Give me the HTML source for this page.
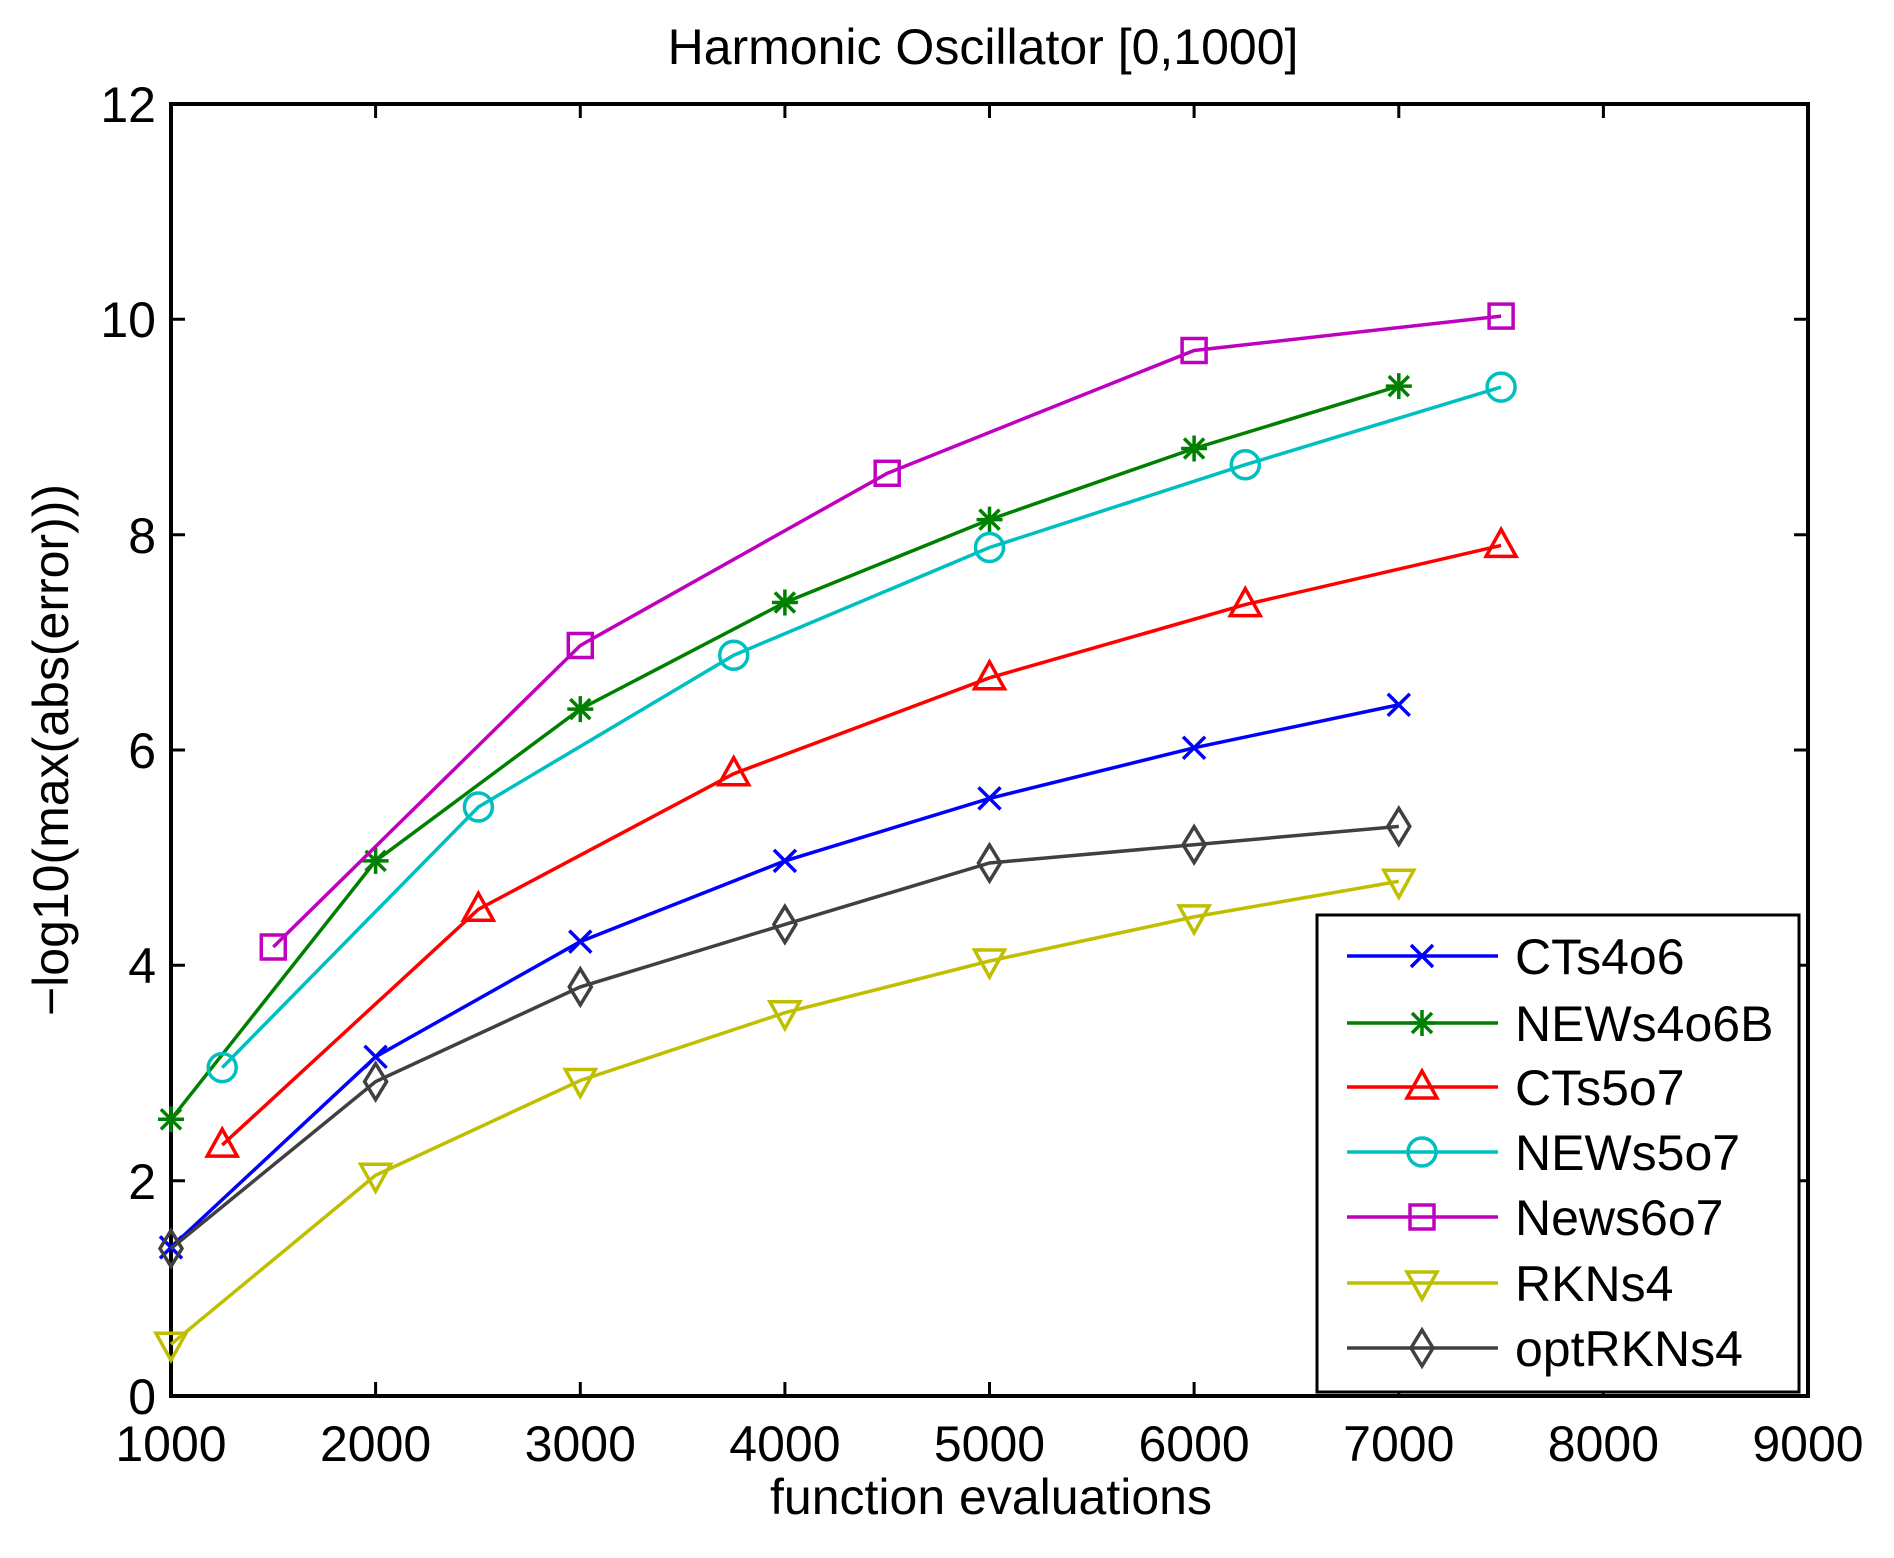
<!DOCTYPE html>
<html><head><meta charset="utf-8"><style>
html,body{margin:0;padding:0;background:#fff;}
svg{display:block;font-family:"Liberation Sans",Arial,sans-serif;}
</style></head><body>
<svg width="1894" height="1558" viewBox="0 0 1894 1558" xmlns="http://www.w3.org/2000/svg">
<defs>
<g id="mx"><path d="M-11,-11L11,11M-11,11L11,-11" stroke-width="3.5"/></g>
<g id="ms"><path d="M-13,0H13M0,-13V13M-10,-10L10,10M-10,10L10,-10" stroke-width="3.5"/></g>
<g id="mt"><path d="M0,-16L15,11H-15Z" fill="none" stroke-width="3.5"/></g>
<g id="mo"><circle r="14" fill="none" stroke-width="3.5"/></g>
<g id="mq"><rect x="-12" y="-12" width="24" height="24" fill="none" stroke-width="3.5"/></g>
<g id="mv"><path d="M0,16L15,-11H-15Z" fill="none" stroke-width="3.5"/></g>
<g id="md"><path d="M0,-18L11,0L0,18L-11,0Z" fill="none" stroke-width="3.5"/></g>
</defs>
<rect width="1894" height="1558" fill="#fff"/>
<rect x="171" y="104" width="1637" height="1292" fill="none" stroke="#000" stroke-width="4"/>
<g stroke="#000" stroke-width="3">
<path d="M375.6,1396v-14M580.3,1396v-14M784.9,1396v-14M989.5,1396v-14M1194.1,1396v-14M1398.8,1396v-14M1603.4,1396v-14"/>
<path d="M375.6,104v14M580.3,104v14M784.9,104v14M989.5,104v14M1194.1,104v14M1398.8,104v14M1603.4,104v14"/>
<path d="M171,1180.7h14M171,965.3h14M171,750h14M171,534.7h14M171,319.3h14"/>
<path d="M1808,1180.7h-14M1808,965.3h-14M1808,750h-14M1808,534.7h-14M1808,319.3h-14"/>
</g>
<g font-size="50" fill="#000" text-anchor="middle">
<text x="171" y="1461">1000</text><text x="375.6" y="1461">2000</text><text x="580.3" y="1461">3000</text>
<text x="784.9" y="1461">4000</text><text x="989.5" y="1461">5000</text><text x="1194.1" y="1461">6000</text>
<text x="1398.8" y="1461">7000</text><text x="1603.4" y="1461">8000</text><text x="1808" y="1461">9000</text>
</g>
<g font-size="50" fill="#000" text-anchor="end">
<text x="156" y="1414">0</text><text x="156" y="1199">2</text><text x="156" y="983">4</text>
<text x="156" y="768">6</text><text x="156" y="553">8</text><text x="156" y="337">10</text><text x="156" y="122">12</text>
</g>
<text x="983" y="64" font-size="50" text-anchor="middle">Harmonic Oscillator [0,1000]</text>
<text x="991" y="1514" font-size="50" text-anchor="middle">function evaluations</text>
<text transform="translate(68,750) rotate(-90)" font-size="50" text-anchor="middle">−log10(max(abs(error)))</text>

<g fill="none" stroke-width="3.5">
<g stroke="#0000ff"><polyline points="171,1247.4 375.6,1056.8 580.3,941.6 784.9,860.9 989.5,798.4 1194.1,747.8 1398.8,704.8"/>
<use href="#mx" x="171" y="1247.4"/><use href="#mx" x="375.6" y="1056.8"/><use href="#mx" x="580.3" y="941.6"/><use href="#mx" x="784.9" y="860.9"/><use href="#mx" x="989.5" y="798.4"/><use href="#mx" x="1194.1" y="747.8"/><use href="#mx" x="1398.8" y="704.8"/></g>
<g stroke="#008000"><polyline points="171,1119.3 375.6,860.9 580.3,709.1 784.9,602.5 989.5,519.6 1194.1,448.5 1398.8,386.1"/>
<use href="#ms" x="171" y="1119.3"/><use href="#ms" x="375.6" y="860.9"/><use href="#ms" x="580.3" y="709.1"/><use href="#ms" x="784.9" y="602.5"/><use href="#ms" x="989.5" y="519.6"/><use href="#ms" x="1194.1" y="448.5"/><use href="#ms" x="1398.8" y="386.1"/></g>
<g stroke="#ff0000"><polyline points="222.2,1145.1 478.4,909.3 733.7,773.7 989.5,677.8 1245.3,604.6 1501.1,545.4"/>
<use href="#mt" x="222.2" y="1145.1"/><use href="#mt" x="478.4" y="909.3"/><use href="#mt" x="733.7" y="773.7"/><use href="#mt" x="989.5" y="677.8"/><use href="#mt" x="1245.3" y="604.6"/><use href="#mt" x="1501.1" y="545.4"/></g>
<g stroke="#00bfbf"><polyline points="222.2,1067.6 478.4,807 733.7,655.2 989.5,547.5 1245.3,464.7 1501.1,387.1"/>
<use href="#mo" x="222.2" y="1067.6"/><use href="#mo" x="478.4" y="807"/><use href="#mo" x="733.7" y="655.2"/><use href="#mo" x="989.5" y="547.5"/><use href="#mo" x="1245.3" y="464.7"/><use href="#mo" x="1501.1" y="387.1"/></g>
<g stroke="#bf00bf"><polyline points="273.3,947 580.3,645.5 887.2,473.3 1194.1,350.5 1501.1,316.1"/>
<use href="#mq" x="273.3" y="947"/><use href="#mq" x="580.3" y="645.5"/><use href="#mq" x="887.2" y="473.3"/><use href="#mq" x="1194.1" y="350.5"/><use href="#mq" x="1501.1" y="316.1"/></g>
<g stroke="#bfbf00"><polyline points="171,1344.3 375.6,1175.3 580.3,1080.5 784.9,1012.7 989.5,961 1194.1,916.9 1398.8,881.3"/>
<use href="#mv" x="171" y="1344.3"/><use href="#mv" x="375.6" y="1175.3"/><use href="#mv" x="580.3" y="1080.5"/><use href="#mv" x="784.9" y="1012.7"/><use href="#mv" x="989.5" y="961"/><use href="#mv" x="1194.1" y="916.9"/><use href="#mv" x="1398.8" y="881.3"/></g>
<g stroke="#404040"><polyline points="171,1248.5 375.6,1081.6 580.3,986.9 784.9,924.4 989.5,863 1194.1,844.7 1398.8,826.4"/>
<use href="#md" x="171" y="1248.5"/><use href="#md" x="375.6" y="1081.6"/><use href="#md" x="580.3" y="986.9"/><use href="#md" x="784.9" y="924.4"/><use href="#md" x="989.5" y="863"/><use href="#md" x="1194.1" y="844.7"/><use href="#md" x="1398.8" y="826.4"/></g>
</g>

<rect x="1317" y="915" width="482" height="477" fill="#fff" stroke="#000" stroke-width="3"/>
<g fill="none" stroke-width="3.5">
<g stroke="#0000ff"><path d="M1347,956H1498"/><use href="#mx" x="1422" y="956"/></g>
<g stroke="#008000"><path d="M1347,1023H1498"/><use href="#ms" x="1422" y="1023"/></g>
<g stroke="#ff0000"><path d="M1347,1087H1498"/><use href="#mt" x="1422" y="1087"/></g>
<g stroke="#00bfbf"><path d="M1347,1152H1498"/><use href="#mo" x="1422" y="1152"/></g>
<g stroke="#bf00bf"><path d="M1347,1217H1498"/><use href="#mq" x="1422" y="1217"/></g>
<g stroke="#bfbf00"><path d="M1347,1283H1498"/><use href="#mv" x="1422" y="1283"/></g>
<g stroke="#404040"><path d="M1347,1348H1498"/><use href="#md" x="1422" y="1348"/></g>
</g>
<g font-size="50" fill="#000">
<text x="1515" y="974">CTs4o6</text><text x="1515" y="1041">NEWs4o6B</text><text x="1515" y="1105">CTs5o7</text>
<text x="1515" y="1170">NEWs5o7</text><text x="1515" y="1235">News6o7</text><text x="1515" y="1301">RKNs4</text>
<text x="1515" y="1366">optRKNs4</text>
</g>
</svg>
</body></html>
